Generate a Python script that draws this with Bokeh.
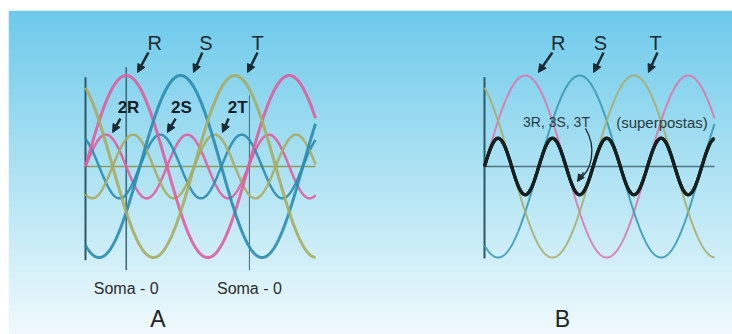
import numpy as np
from bokeh.plotting import figure
from bokeh.models import Range1d, Arrow, NormalHead, Label
from bokeh.embed import file_html
from bokeh.resources import INLINE

# ---------------- data ----------------
phases = [0, 120, 240]                 # R, S, T phase shift (deg)
phase_names = ["R", "S", "T"]
fund_amp = 1.0
harm2_amp = 0.35                       # 2nd harmonics (panel A)
harm3_amp = 0.31                       # 3rd harmonics (panel B)
theta_end = 508                        # deg, end of drawn waves
soma_theta = [90, 362]                 # "Soma = 0" marker lines
soma_tops = [1.09, 0.78]
soma_bottom = -1.14

colors = ["#e05d9e", "#2a8cb0", "#a9ac62"]
colors_b = ["#de78ad", "#3c9ab5", "#a8ae70"]

labels_A_x = [153, 266, 380]
labels_B_x = [163, 256, 378]
harm_labels = ["2R", "2S", "2T"]
harm_labels_x = [95, 212, 336]

bg_stops_y = [1.72, 0.0, -1.85]
bg_stops_rgb = [(110, 202, 235), (172, 226, 243), (240, 250, 253)]

# ---------------- figure ----------------
# A-panel theta range on the default x range, B-panel on an extra range
XA0, XA1 = -170.05, 1428.9
XB0, XB1 = -1051.2, 547.7
Y0, Y1 = -1.846, 1.714

p = figure(width=732, height=334, output_backend="svg", toolbar_location=None,
           x_range=Range1d(XA0, XA1), y_range=Range1d(Y0, Y1),
           min_border_left=8, min_border_top=10, min_border_right=0,
           min_border_bottom=0, outline_line_color=None,
           border_fill_color="white")
p.extra_x_ranges = {"B": Range1d(XB0, XB1)}
p.xaxis.visible = False
p.yaxis.visible = False
p.xgrid.visible = False
p.ygrid.visible = False

# vertical gradient background
n = 240
ys = np.linspace(Y0, Y1, n)
sy = np.array(bg_stops_y[::-1])
rgb = np.array(bg_stops_rgb[::-1], dtype=float)
img = np.empty((n, 1), dtype=np.uint32)
view = img.view(dtype=np.uint8).reshape((n, 1, 4))
for k in range(3):
    view[:, 0, k] = np.interp(ys, sy, rgb[:, k]).astype(np.uint8)
view[:, 0, 3] = 255
p.image_rgba(image=[img], x=XA0, y=Y0, dw=XA1 - XA0, dh=Y1 - Y0)


def arrow(xs, ys_, xe, ye, w=2.5, rn="default", size=8):
    p.add_layout(Arrow(x_start=xs, y_start=ys_, x_end=xe, y_end=ye,
                       line_width=w, line_color="#1b2b33", x_range_name=rn,
                       end=NormalHead(size=size, line_color="#1b2b33",
                                      fill_color="#1b2b33", line_width=1)))


def txt(x, y, s, size, color="#1e2a30", style="normal", rn="default"):
    p.add_layout(Label(x=x, y=y, text=s, text_font="Liberation Sans",
                       text_font_size=f"{size}px", x_range_name=rn,
                       text_align="center", text_baseline="middle",
                       text_color=color, text_font_style=style))


theta = np.linspace(0, theta_end, 700)
rad = np.radians(theta)

# ---------------- panel A ----------------
p.line([0, theta_end], [0, 0], line_color="#8c9c60", line_width=1.5)
p.line([0, 0], [0.98, -1.03], line_color="#2c5866", line_width=2)
for st, top in zip(soma_theta, soma_tops):
    p.line([st, st], [top, soma_bottom], line_color="#3d6d78",
           line_width=1.6 if st == soma_theta[0] else 1.0)
for ph, c in zip(phases, colors):
    p.line(theta, harm2_amp * np.sin(2 * (rad - np.radians(ph))),
           line_color=c, line_width=2.5, line_alpha=0.9)
for ph, c in zip(phases, colors):
    p.line(theta, fund_amp * np.sin(rad - np.radians(ph)),
           line_color=c, line_width=3, line_alpha=0.9)

for name, lx in zip(phase_names, labels_A_x):
    txt(lx, 1.352, name, 20)
arrow(139, 1.253, 115, 1.033)
arrow(258, 1.253, 238.5, 1.033)
arrow(380, 1.253, 358, 1.033)
for name, lx in zip(harm_labels, harm_labels_x):
    txt(lx, 0.648, name, 17, color="#13202a", style="bold")
arrow(77, 0.527, 60, 0.374)
arrow(199, 0.527, 181, 0.374)
arrow(316, 0.527, 302.5, 0.374)
for st in soma_theta:
    txt(st, -1.34, "Soma - 0", 16, color="#2c2c2c")
txt(160, -1.68, "A", 23, color="#222222")

# ---------------- panel B ----------------
p.line([0, theta_end], [0, 0], line_color="#4f7480", line_width=1.5, x_range_name="B")
p.line([0, 0], [0.98, -1.01], line_color="#2c5866", line_width=2, x_range_name="B")
for ph, c in zip(phases, colors_b):
    p.line(theta, fund_amp * np.sin(rad - np.radians(ph)),
           line_color=c, line_width=2, line_alpha=0.9, x_range_name="B")
for ph in phases:
    p.line(theta, harm3_amp * np.sin(3 * (rad - np.radians(ph))),
           line_color="#15201f", line_width=3.2, line_alpha=0.85, x_range_name="B")

for name, lx in zip(phase_names, labels_B_x):
    txt(lx, 1.352, name, 20, rn="B")
arrow(150, 1.253, 119, 1.033, rn="B")
arrow(263, 1.253, 241, 1.033, rn="B")
arrow(382, 1.253, 362, 1.033, rn="B")
txt(159, 0.484, "3R, 3S, 3T", 14, color="#2a3a40", rn="B")
txt(392, 0.484, "(superpostas)", 15, color="#2a3a40", rn="B")
p.bezier(x0=[223], y0=[0.418], x1=[210], y1=[-0.132], cx0=[249], cy0=[0.20],
         cx1=[236], cy1=[-0.05], line_color="#1b2b33", line_width=1.3,
         x_range_name="B")
arrow(218.6, -0.066, 205.4, -0.165, w=1.5, rn="B", size=7)
txt(172, -1.68, "B", 23, color="#222222", rn="B")

open("out.html", "w").write(file_html(p, INLINE))
